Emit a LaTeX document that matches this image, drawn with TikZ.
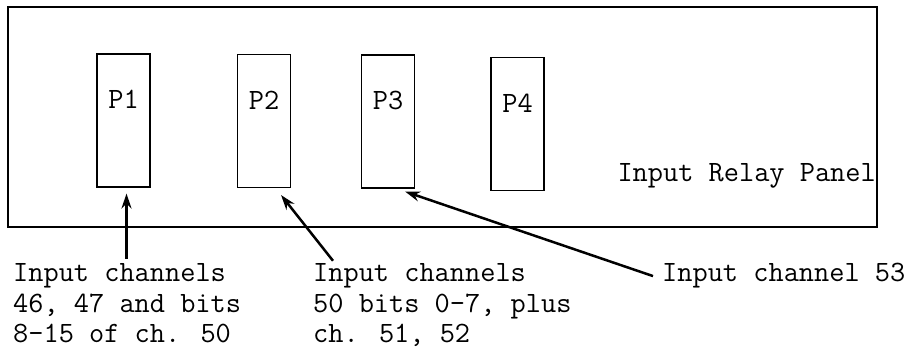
\documentclass[tikz,border=0pt]{standalone}
\usetikzlibrary{arrows.meta, positioning}

\begin{document}
\begin{tikzpicture}[x=1pt,y=1pt,font=\ttfamily\fontsize{29.5}{31}\selectfont,
        relay/.style={draw,line width=1.1pt,minimum width=53pt,
                      minimum height=133pt,inner sep=0pt},
        feed/.style={-{Stealth[length=15pt,width=10pt]},line width=2.5pt},
        caption/.style={anchor=base west,align=left,inner sep=0pt}]
      \useasboundingbox (0,0) rectangle (917,353);
      \node[draw,line width=1.4pt,minimum width=869pt,minimum height=220pt,
            inner sep=0pt] (panel) at (442.5,236) {};
      \node[relay] (p1) at (123.5,232.5) {};
      \node[relay] (p2) at (264,232) {};
      \node[relay] (p3) at (388,231.5) {};
      \node[relay] (p4) at (517.5,229) {};
      \foreach \i in {1,...,4}
        \node (lbl\i) at ([yshift=-46pt]p\i.north) {P\i};
      \node[anchor=base east,inner sep=0pt] (title) at (876,171)
        {Input Relay Panel};
      % the last line sits on the given baseline
      \node[caption] (in1) at (13,10)
        {Input channels\\46, 47 and bits\\8-15 of ch. 50};
      \node[caption] (in2) at (313,10)
        {Input channels\\50 bits 0-7, plus\\ch. 51, 52};
      \node[caption] (in3) at (662,71) {Input channel 53};
      \draw[feed] ([xshift=3pt,yshift=4pt]p1.south |- in1.north)
        -- ([xshift=3pt,yshift=-6pt]p1.south);
      \draw[feed] ([xshift=20pt,yshift=2pt]in2.north west)
        -- ([xshift=-10pt,yshift=-7pt]p2.south east);
      \draw[feed] ([xshift=-9pt]in3.west)
        -- ([xshift=-10pt,yshift=-3pt]p3.south east);
    \end{tikzpicture}
\end{document}
